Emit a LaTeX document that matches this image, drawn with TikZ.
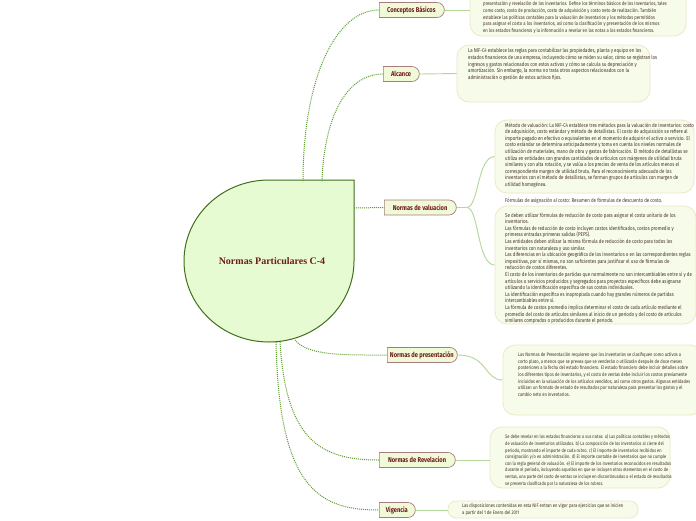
\documentclass[tikz,border=0pt]{standalone}
\usepackage{fontspec}
\usetikzlibrary{shapes.misc}
\newfontfamily\blkfont{Fira Sans}[FakeStretch=0.8]
\newfontfamily\topfont{Fira Sans}[FakeStretch=0.82]
\newfontfamily\ctrfont{Liberation Serif}
\definecolor{topfill}{HTML}{F1FAD8}
\definecolor{topborder}{HTML}{A87C7C}
\definecolor{darkred}{HTML}{6E1C1C}
\definecolor{ctrfill}{HTML}{E7FBD3}
\definecolor{ctrborder}{HTML}{41701C}
\definecolor{dotgreen}{HTML}{5D9C2F}
\definecolor{linkgreen}{HTML}{B3D79A}
\definecolor{blkfill}{HTML}{F7FCEA}
\definecolor{blkborder}{HTML}{EDE7C6}
\definecolor{blktext}{HTML}{45332A}
\begin{document}
\begin{tikzpicture}[x=1pt,y=-1pt,
  topic/.style={rounded rectangle, rounded rectangle left arc=none, draw=topborder, fill=topfill,
    line width=0.7pt, text=darkred, font=\topfont\bfseries\fontsize{7}{8}\selectfont,
    inner xsep=4pt, inner ysep=0pt, minimum height=15pt, anchor=west},
  blk/.style={draw=blkborder, fill=blkfill, rounded corners=12pt, line width=0.8pt, inner sep=0pt},
  blktxt/.style={anchor=north west, align=left, inner sep=0pt, text=blktext,
    font=\blkfont\fontsize{#1}{6.6}\selectfont},
  blktxt/.default=5.5,
  mainlink/.style={draw=dotgreen, line width=1pt, dash pattern=on 1pt off 1pt},
  link/.style={draw=linkgreen, line width=0.9pt}]
\useasboundingbox (0,0) rectangle (696,520);
\fill[white] (0,0) rectangle (696,520);

% central node
\draw[fill=ctrfill, draw=ctrborder, line width=1pt]
  (354,261) arc[start angle=0, end angle=270, x radius=85, y radius=81] -- (354,180) -- cycle;
\node[text=darkred, font=\ctrfont\bfseries\fontsize{10}{12}\selectfont] (ctr) at (272,261) {Normas Particulares C-4};
\coordinate (s1) at (303,181);
\coordinate (s2) at (322,181);
\coordinate (s3) at (354,208);
\coordinate (s4) at (295,340);
\coordinate (s5) at (280,342);
\coordinate (s6) at (276,342);

% topics
\node[topic, minimum width=73] (t1) at (379,10) {Conceptos Básicos};
\node[topic, minimum width=44] (t2) at (383,74) {Alcance};
\node[topic, minimum width=80] (t3) at (384,207.5) {Normas de valuacion};
\node[topic, minimum width=78] (t4) at (387,355) {Normas de presentación};
\node[topic, minimum width=84] (t5) at (379,460) {Normas de Revelacion};
\node[topic, minimum width=44] (t6) at (379,510) {Vigencia};

\draw[mainlink] (s1) .. controls (303,80) and (335,10) .. (t1.west);
\draw[mainlink] (s2) .. controls (324,120) and (345,74) .. (t2.west);
\draw[mainlink] (s3) -- (t3.west);
\draw[mainlink] (s4) .. controls (308,356) and (345,355) .. (t4.west);
\draw[mainlink] (s5) .. controls (286,440) and (320,460) .. (t5.west);
\draw[mainlink] (s6) .. controls (279,490) and (320,510) .. (t6.west);

% blocks
\node[blk, minimum width=216, minimum height=56] (b1) at (578,8) {};
\node[blk, minimum width=193, minimum height=57] (b2) at (553.5,73.5) {};
\node[blk, minimum width=199, minimum height=73] (b3) at (594.5,156.5) {};
\node[blk, minimum width=201, minimum height=118] (b4) at (595.5,265) {};
\node[blk, minimum width=199, minimum height=70] (b5) at (602.5,380) {};
\node[blk, minimum width=180, minimum height=61] (b6) at (580,457.5) {};
\node[blk, rounded corners=8pt, minimum width=190, minimum height=17] (b7) at (543,509.5) {};

\draw[link] (t1.east) -- (t1.east -| b1.west);
\draw[link] (t2.east) -- (b2.west);
\draw[link] (t3.east) -- ++(10,0) coordinate (j3);
\draw[link] (j3) .. controls (479,207) and (477,157) .. (b3.west);
\draw[link] (j3) .. controls (479,207) and (477,265) .. (b4.west);
\draw[link] (t4.east) .. controls (488,355) and (484,380) .. (b5.west);
\draw[link] (t5.east) -- (t5.east -| b6.west);
\draw[link] (t6.east) -- (t6.east -| b7.west);

% texts
\node[blktxt=5.2] (x1) at (483,1.5) {presentación y revelación de los inventarios. Define los términos básicos de los inventarios, tales\\
como costo, costo de producción, costo de adquisición y costo neto de realización. También\\
establece las políticas contables para la valuación de inventarios y los métodos permitidos\\
para asignar el costo a los inventarios, así como la clasificación y presentación de los mismos\\
en los estados financieros y la información a revelar en las notas a los estados financieros.};

\node[blktxt] (x2) at (468,48.5) {La NIF-C4 establece las reglas para contabilizar las propiedades, planta y equipo en los\\
estados financieros de una empresa, incluyendo cómo se miden su valor, cómo se registran los\\
ingresos y gastos relacionados con estos activos y cómo se calcula su depreciación y\\
amortización. Sin embargo, la norma no trata otros aspectos relacionados con la\\
administración o gestión de estos activos fijos.};

\node[blktxt] (x3) at (505,122.5) {Método de valuación: La NIF-C4 establece tres métodos para la valuación de inventarios: costo\\
de adquisición, costo estándar y método de detallistas. El costo de adquisición se refiere al\\
importe pagado en efectivo o equivalentes en el momento de adquirir el activo o servicio. El\\
costo estándar se determina anticipadamente y toma en cuenta los niveles normales de\\
utilización de materiales, mano de obra y gastos de fabricación. El método de detallistas se\\
utiliza en entidades con grandes cantidades de artículos con márgenes de utilidad bruta\\
similares y con alta rotación, y se valúa a los precios de venta de los artículos menos el\\
correspondiente margen de utilidad bruta. Para el reconocimiento adecuado de los\\
inventarios con el método de detallistas, se forman grupos de artículos con margen de\\
utilidad homogénea.};

\node[blktxt] (fm) at (505,197.5) {Fórmulas de asignación al costo: Resumen de fórmulas de descuento de costo.};

\node[blktxt] (x4) at (505,212.5) {Se deben utilizar fórmulas de reducción de costo para asignar el costo unitario de los\\
inventarios.\\
Las fórmulas de reducción de costo incluyen costos identificados, costos promedio y\\
primeras entradas primeras salidas (PEPS).\\
Las entidades deben utilizar la misma fórmula de reducción de costo para todos los\\
inventarios con naturaleza y uso similar.\\
Las diferencias en la ubicación geográfica de los inventarios o en las correspondientes reglas\\
impositivas, por sí mismas, no son suficientes para justificar el uso de fórmulas de\\
reducción de costos diferentes.\\
El costo de los inventarios de partidas que normalmente no son intercambiables entre sí y de\\
artículos o servicios producidos y segregados para proyectos específicos debe asignarse\\
utilizando la identificación específica de sus costos individuales.\\
La identificación específica es inapropiada cuando hay grandes números de partidas\\
intercambiables entre sí.\\
La fórmula de costos promedio implica determinar el costo de cada artículo mediante el\\
promedio del costo de artículos similares al inicio de un periodo y del costo de artículos\\
similares comprados o producidos durante el periodo.};

\node[blktxt=5.1] (x5) at (518,352.5) {Las Normas de Presentación requieren que los inventarios se clasifiquen como activos a\\
corto plazo, a menos que se prevea que se venderán o utilizarán después de doce meses\\
posteriores a la fecha del estado financiero. El estado financiero debe incluir detalles sobre\\
los diferentes tipos de inventarios, y el costo de ventas debe incluir los costos previamente\\
incluidos en la valuación de los artículos vendidos, así como otros gastos. Algunas entidades\\
utilizan un formato de estado de resultados por naturaleza para presentar los gastos y el\\
cambio neto en inventarios.};

\node[blktxt=4.95] (x6) at (505,434.5) {Se debe revelar en los estados financieros o sus notas: a) Las políticas contables y métodos\\
de valuación de inventarios utilizados. b) La composición de los inventarios al cierre del\\
periodo, mostrando el importe de cada rubro. c) El importe de inventarios recibidos en\\
consignación y/o en administración. d) El importe contable de inventarios que no cumple\\
con la regla general de valuación. e) El importe de los inventarios reconocidos en resultados\\
durante el periodo, incluyendo aquellos en que se incluyen otros elementos en el costo de\\
ventas, una parte del costo de ventas se incluye en discontinuadas o el estado de resultados\\
se presenta clasificado por la naturaleza de los rubros.};

\node[blktxt=5.15] (x7) at (462,503.5) {Las disposiciones contenidas en esta NIF entran en vigor para ejercicios que se inicien\\
a partir del 1 de Enero del 2011};
\end{tikzpicture}
\end{document}
